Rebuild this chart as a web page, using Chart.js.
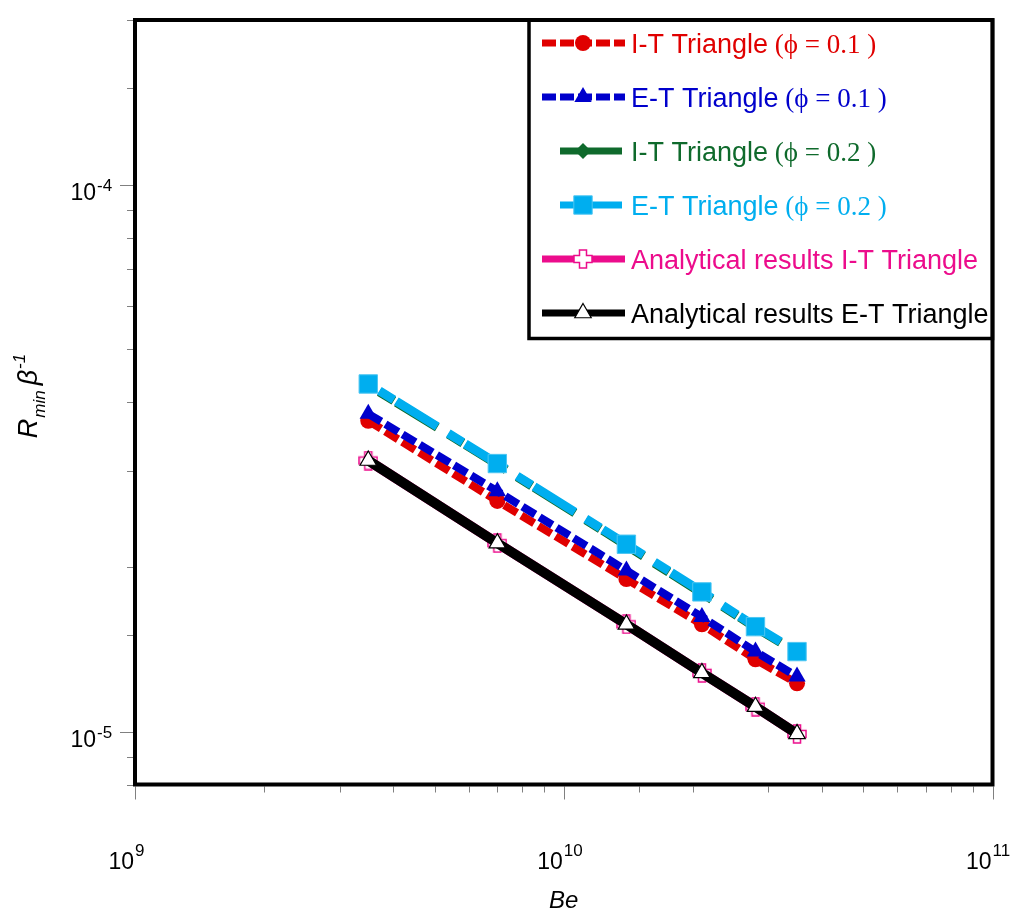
<!DOCTYPE html>
<html>
<head>
<meta charset="utf-8">
<script src="https://cdn.jsdelivr.net/npm/chart.js@4.4.1/dist/chart.umd.min.js"></script>
<style>
  html, body { margin: 0; padding: 0; background: #fff; }
  #wrap { width: 1021px; height: 913px; }
</style>
</head>
<body>
<div id="wrap"><canvas id="chart" width="1021" height="913"></canvas></div>
<script>
// Be values, shared by every series
const beValues = [3.5e9, 7e9, 1.4e10, 2.1e10, 2.8e10, 3.5e10];

// R_min * beta^-1
const itPhi01    = [3.70e-5, 2.64e-5, 1.90e-5, 1.57e-5, 1.355e-5, 1.225e-5];
const etPhi01    = [3.81e-5, 2.75e-5, 1.97e-5, 1.62e-5, 1.40e-5, 1.26e-5];
const itPhi02    = [4.30e-5, 3.08e-5, 2.19e-5, 1.79e-5, 1.55e-5, 1.395e-5];
const etPhi02    = [4.32e-5, 3.09e-5, 2.20e-5, 1.80e-5, 1.555e-5, 1.40e-5];
const analyticIT = [3.13e-5, 2.21e-5, 1.57e-5, 1.28e-5, 1.11e-5, 9.9e-6];
const analyticET = [3.13e-5, 2.21e-5, 1.57e-5, 1.28e-5, 1.11e-5, 9.9e-6];

// legend text
const seriesNames = ["I-T Triangle", "E-T Triangle", "I-T Triangle", "E-T Triangle",
                     "Analytical results I-T Triangle", "Analytical results E-T Triangle"];
const seriesPhi = ["(\u03D5 = 0.1 )", "(\u03D5 = 0.1 )", "(\u03D5 = 0.2 )", "(\u03D5 = 0.2 )", "", ""];

// axis tick labels (decades only)
const xDecades = [1e9, 1e10, 1e11];
const xDecadeExp = ["9", "10", "11"];
const yDecades = [1e-5, 1e-4];
const yDecadeExp = ["-5", "-4"];

const SANS = "'Liberation Sans', Arial, sans-serif";
const SERIF = "'Liberation Serif', 'Times New Roman', serif";

const toPoints = ys => ys.map((y, i) => ({ x: beValues[i], y: y }));

// hollow pink plus used by the analytical I-T curve
function plusMarker(size, arm, color) {
  const c = document.createElement('canvas');
  c.width = c.height = size;
  const g = c.getContext('2d');
  const m = size / 2, a = arm / 2, e = size / 2 - 1;
  g.beginPath();
  g.moveTo(m - a, m - e); g.lineTo(m + a, m - e); g.lineTo(m + a, m - a);
  g.lineTo(m + e, m - a); g.lineTo(m + e, m + a); g.lineTo(m + a, m + a);
  g.lineTo(m + a, m + e); g.lineTo(m - a, m + e); g.lineTo(m - a, m + a);
  g.lineTo(m - e, m + a); g.lineTo(m - e, m - a); g.lineTo(m - a, m - a);
  g.closePath();
  g.fillStyle = '#fff'; g.fill();
  g.strokeStyle = color; g.lineWidth = 1.5; g.stroke();
  return c;
}

const isDecade = v => Math.abs(Math.log10(v) - Math.round(Math.log10(v))) < 1e-6;

const datasets = [
  { data: toPoints(itPhi01), borderColor: '#e00000', backgroundColor: '#e00000',
    borderWidth: 8, borderDash: [15, 5], legendDash: [14, 4], legendShort: false,
    pointStyle: 'circle', pointRadius: 8, pointBorderWidth: 0, order: 3 },
  { data: toPoints(etPhi01), borderColor: '#0000cc', backgroundColor: '#0000cc',
    borderWidth: 8, borderDash: [15, 5], legendDash: [14, 4], legendShort: false,
    pointStyle: 'triangle', pointRadius: 10, pointBorderWidth: 0, order: 2 },
  { data: toPoints(itPhi02), borderColor: '#0f6a2c', backgroundColor: '#0f6a2c',
    borderWidth: 9, borderDash: [17, 3, 48, 13], borderDashOffset: 68, legendDash: [], legendShort: true,
    pointStyle: 'rectRot', pointRadius: 8, pointBorderWidth: 0, order: 5 },
  { data: toPoints(etPhi02), borderColor: '#00aeef', backgroundColor: '#00aeef',
    borderWidth: 9, borderDash: [17, 3, 48, 13], borderDashOffset: 68, legendDash: [], legendShort: true,
    pointStyle: 'rect', pointRadius: 13, pointBorderWidth: 1, pointBorderColor: '#4cc6f2', order: 4 },
  { data: toPoints(analyticIT), borderColor: '#ec0c8c', backgroundColor: '#ec0c8c',
    borderWidth: 10, legendDash: [], legendShort: false,
    pointStyle: plusMarker(20, 7, '#ec0c8c'), pointRadius: 10, order: 1 },
  { data: toPoints(analyticET), borderColor: '#000000', backgroundColor: '#ffffff',
    borderWidth: 10, legendDash: [], legendShort: false,
    pointStyle: 'triangle', pointRadius: 9.5, pointBorderWidth: 1.2, pointBorderColor: '#000',
    pointBackgroundColor: '#fff', order: 0 }
];

// text made of runs with their own font and vertical shift
function drawRuns(ctx, runs, x, y) {
  let cx = x;
  runs.forEach(r => {
    ctx.font = r.font;
    ctx.fillText(r.text, cx, y + (r.dy || 0));
    cx += ctx.measureText(r.text).width + (r.gap || 0);
  });
  return cx;
}
function runsWidth(ctx, runs) {
  let w = 0;
  runs.forEach(r => { ctx.font = r.font; w += ctx.measureText(r.text).width + (r.gap || 0); });
  return w;
}

const decor = {
  id: 'decor',
  afterDraw(chart) {
    const ctx = chart.ctx, a = chart.chartArea;
    const xs = chart.scales.x, ys = chart.scales.y;
    ctx.save();

    // ticks outside the frame
    ctx.strokeStyle = '#808080';
    ctx.lineWidth = 1;
    xs.ticks.forEach(t => {
      const px = Math.round(xs.getPixelForValue(t.value)) + 0.5;
      const len = isDecade(t.value) ? 13 : 6;
      ctx.beginPath(); ctx.moveTo(px, a.bottom + 2); ctx.lineTo(px, a.bottom + 2 + len); ctx.stroke();
    });
    ys.ticks.forEach(t => {
      const py = Math.round(ys.getPixelForValue(t.value)) + 0.5;
      const len = isDecade(t.value) ? 13 : 6;
      ctx.beginPath(); ctx.moveTo(a.left - 2, py); ctx.lineTo(a.left - 2 - len, py); ctx.stroke();
    });

    // tick labels
    ctx.fillStyle = '#000';
    ctx.textBaseline = 'alphabetic';
    xDecades.forEach((v, i) => {
      const px = xs.getPixelForValue(v);
      ctx.textAlign = 'right';
      ctx.font = '23px ' + SANS;
      ctx.fillText('10', px - 1, 869);
      ctx.textAlign = 'left';
      ctx.font = '17px ' + SANS;
      ctx.fillText(xDecadeExp[i], px, 856);
    });
    yDecades.forEach((v, i) => {
      const py = ys.getPixelForValue(v);
      ctx.textAlign = 'right';
      ctx.font = '23px ' + SANS;
      ctx.fillText('10', 96, py + 15);
      ctx.textAlign = 'left';
      ctx.font = '17px ' + SANS;
      ctx.fillText(yDecadeExp[i], 97, py + 6);
    });

    // axis titles
    ctx.textAlign = 'center';
    ctx.font = 'italic 24px ' + SANS;
    ctx.fillText('Be', (a.left + a.right) / 2, 908);

    const yRuns = [
      { text: 'R', font: 'italic 27px ' + SANS, gap: 1 },
      { text: 'min', font: 'italic 17px ' + SANS, dy: 8, gap: 5 },
      { text: '\u03B2', font: 'italic 27px ' + SANS, gap: 1 },
      { text: '-1', font: 'italic 17px ' + SANS, dy: -12 }
    ];
    ctx.save();
    ctx.translate(37, 396);
    ctx.rotate(-Math.PI / 2);
    ctx.textAlign = 'left';
    drawRuns(ctx, yRuns, -runsWidth(ctx, yRuns) / 2, 0);
    ctx.restore();

    // legend box
    const lx = 529, ly = a.top, lr = a.right, lb = 338.5;
    ctx.fillStyle = '#fff';
    ctx.fillRect(lx, ly, lr - lx, lb - ly);
    ctx.strokeStyle = '#000';
    ctx.lineWidth = 3.5;
    ctx.strokeRect(lx, ly, lr - lx, lb - ly);

    // frame
    ctx.lineWidth = 4;
    ctx.strokeRect(a.left, a.top, a.right - a.left, a.bottom - a.top);

    chart.data.datasets.forEach((ds, i) => {
      const cy = 43 + i * 54;
      const x0 = ds.legendShort ? 560 : 542;
      const x1 = ds.legendShort ? 622 : 625;
      ctx.save();
      ctx.strokeStyle = ds.borderColor;
      ctx.lineWidth = 7;
      ctx.setLineDash(ds.legendDash);
      ctx.beginPath(); ctx.moveTo(x0, cy); ctx.lineTo(x1, cy); ctx.stroke();
      ctx.setLineDash([]);
      ctx.fillStyle = ds.pointBackgroundColor || ds.backgroundColor;
      ctx.strokeStyle = ds.pointBorderColor || ds.borderColor;
      ctx.lineWidth = ds.pointBorderWidth || 0;
      Chart.helpers.drawPoint(ctx, {
        pointStyle: ds.pointStyle, radius: ds.pointRadius, rotation: 0,
        borderWidth: ds.pointBorderWidth || 0
      }, 583, cy);
      ctx.restore();

      ctx.fillStyle = ds.borderColor;
      ctx.textAlign = 'left';
      const runs = [{ text: seriesNames[i], font: '27px ' + SANS }];
      if (seriesPhi[i]) runs.push({ text: ' ' + seriesPhi[i], font: '27px ' + SERIF });
      drawRuns(ctx, runs, 631, cy + 9.5);
    });

    ctx.restore();
  }
};

new Chart(document.getElementById('chart'), {
  type: 'line',
  data: { datasets: datasets },
  options: {
    responsive: false,
    animation: false,
    layout: { padding: { top: 12, right: 28.5, left: 0, bottom: 0 } },
    elements: { line: { tension: 0, fill: false } },
    plugins: { legend: { display: false }, tooltip: { enabled: false } },
    scales: {
      x: {
        type: 'logarithmic', min: 1e9, max: 1e11,
        ticks: { display: false },
        grid: { display: false }, border: { display: false },
        afterFit: s => { s.height = 128.5; }
      },
      y: {
        type: 'logarithmic', min: 8e-6, max: 2e-4,
        ticks: { display: false },
        grid: { display: false }, border: { display: false },
        afterFit: s => { s.width = 135; }
      }
    }
  },
  plugins: [decor]
});
</script>
</body>
</html>
